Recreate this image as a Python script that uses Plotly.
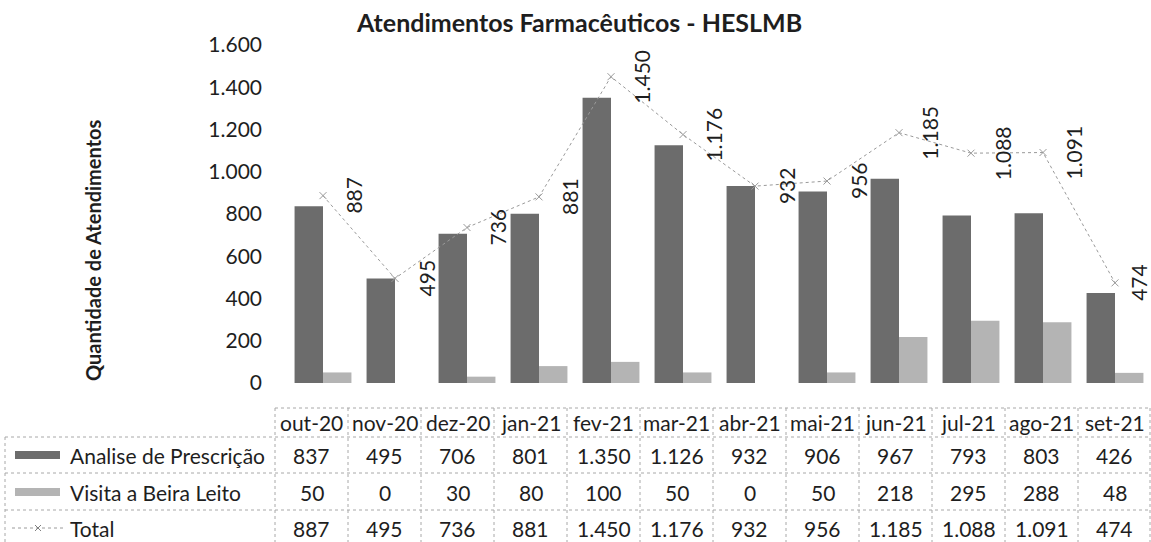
import plotly.graph_objects as go

# ---- data ----
months = ["out-20", "nov-20", "dez-20", "jan-21", "fev-21", "mar-21",
          "abr-21", "mai-21", "jun-21", "jul-21", "ago-21", "set-21"]
analise = [837, 495, 706, 801, 1350, 1126, 932, 906, 967, 793, 803, 426]
visita = [50, 0, 30, 80, 100, 50, 0, 50, 218, 295, 288, 48]
total = [887, 495, 736, 881, 1450, 1176, 932, 956, 1185, 1088, 1091, 474]
series_names = ["Analise de Prescrição", "Visita a Beira Leito", "Total"]
y_ticks = [0, 200, 400, 600, 800, 1000, 1200, 1400, 1600]
title = "Atendimentos Farmacêuticos - HESLMB"
y_title = "Quantidade de Atendimentos"

# ---- canvas helpers (pixel -> paper) ----
W, H = 1151, 542
FONT = "Lato, Carlito, Calibri, sans-serif"
TXT = "#1e1e1e"
C_AN = "#6c6c6c"
C_VI = "#b4b4b4"
C_TOT = "#9a9a9a"
GRID = "#a8a8a8"


def px(x):
    return x / W


def py(y):
    return 1 - y / H


def fmt(v):
    return f"{v:,}".replace(",", ".")


fig = go.Figure()
fig.add_trace(go.Bar(x=months, y=analise, name=series_names[0],
                     marker=dict(color=C_AN, line=dict(width=0))))
fig.add_trace(go.Bar(x=months, y=visita, name=series_names[1],
                     marker=dict(color=C_VI, line=dict(width=0))))
fig.add_trace(go.Scatter(x=months, y=total, name=series_names[2], mode="lines+markers",
                         line=dict(color=C_TOT, width=1, dash="dot"),
                         marker=dict(symbol="x-thin-open", size=7,
                                     line=dict(color="#808080", width=1))))

annotations = []
shapes = []


def note(x, y, text, size, **kw):
    base = dict(x=x, y=y, xref="paper", yref="paper", text=text, showarrow=False,
                xanchor="center", yanchor="middle",
                font=dict(family=FONT, size=size, color=TXT))
    base.update(kw)
    annotations.append(base)


# rotated value labels next to each Total point
for i, (m, t) in enumerate(zip(months, total)):
    shift = 24 if i == len(months) - 1 else 31
    annotations.append(dict(x=m, y=t, xref="x", yref="y", text=fmt(t), showarrow=False,
                            xanchor="center", yanchor="middle",
                            textangle=-90, xshift=shift,
                            font=dict(family=FONT, size=21, color=TXT)))

# title and axis title
note(px(579), py(22), f"<b>{title}</b>", 25)
note(px(93), py(250), f"<b>{y_title}</b>", 20, textangle=-90)

# ---- data table below the chart ----
col0, col_w = 275, 73
row_lines = [437, 473, 510]
head_top, bottom = 408, 542
head_y = 422
row_y = [455, 492, 528]
dot = dict(color=GRID, width=1, dash="dot")

shapes.append(dict(type="line", xref="paper", yref="paper", x0=px(col0), x1=px(W),
                   y0=py(head_top), y1=py(head_top), line=dot))
for ly in row_lines:
    shapes.append(dict(type="line", xref="paper", yref="paper", x0=px(5), x1=px(W),
                       y0=py(ly), y1=py(ly), line=dot))
for k in range(len(months) + 1):
    xx = min(col0 + col_w * k, W - 1)
    shapes.append(dict(type="line", xref="paper", yref="paper", x0=px(xx), x1=px(xx),
                       y0=py(head_top), y1=py(bottom), line=dot))
shapes.append(dict(type="line", xref="paper", yref="paper", x0=px(5), x1=px(5),
                   y0=py(row_lines[0]), y1=py(bottom), line=dot))

for k, m in enumerate(months):
    cx = px(col0 + col_w * k + col_w / 2)
    note(cx, py(head_y), m, 21)
    for vals, ry in zip([analise, visita, total], row_y):
        note(cx, py(ry), fmt(vals[k]), 21)

for name, ry in zip(series_names, row_y):
    note(px(68), py(ry), name, 21, xanchor="left")

# legend keys inside the table
for color, ry in zip([C_AN, C_VI], row_y[:2]):
    shapes.append(dict(type="rect", xref="paper", yref="paper", x0=px(15), x1=px(60),
                       y0=py(ry - 4), y1=py(ry + 4), fillcolor=color, line=dict(width=0)))
shapes.append(dict(type="line", xref="paper", yref="paper", x0=px(12), x1=px(65),
                   y0=py(row_y[2]), y1=py(row_y[2]), line=dict(color=C_TOT, width=1, dash="dot")))
for d in (-3, 3):
    shapes.append(dict(type="line", xref="paper", yref="paper", x0=px(35), x1=px(41),
                       y0=py(row_y[2] - d), y1=py(row_y[2] + d), line=dict(color="#808080", width=1)))

fig.update_layout(
    width=W, height=H,
    margin=dict(l=0, r=0, t=0, b=0, pad=0, autoexpand=False),
    paper_bgcolor="white", plot_bgcolor="white",
    showlegend=False,
    barmode="group", bargap=0.21, bargroupgap=0,
    separators=",.",
    xaxis=dict(domain=[px(287), 1], type="category", range=[-0.5, 11.5], automargin=False,
               showticklabels=False, showgrid=False, showline=False, zeroline=False, ticks=""),
    yaxis=dict(domain=[py(383), py(45)], range=[0, 1600], tickvals=y_ticks, tickformat=",",
               automargin=False,
               showgrid=False, zeroline=False, showline=False, ticks="",
               ticklabelstandoff=24, tickfont=dict(family=FONT, size=21, color=TXT)),
    annotations=annotations,
    shapes=shapes,
)

fig.write_html("out.html")
